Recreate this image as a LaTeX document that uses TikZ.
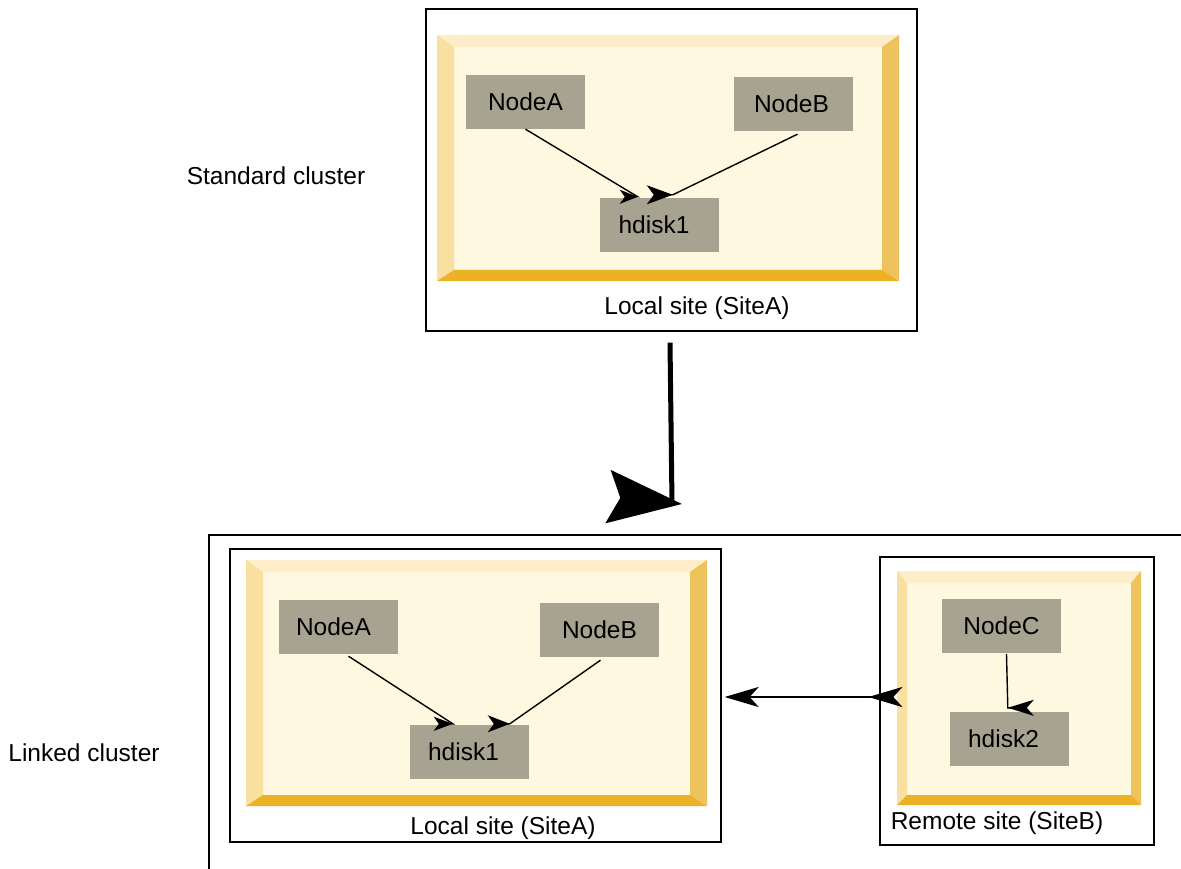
\documentclass[tikz,border=0pt]{standalone}
\usepackage{fontspec}
\setmainfont{Liberation Sans}
\usetikzlibrary{arrows.meta, calc}
\definecolor{facciata}{HTML}{FFF8E0}
\definecolor{bordosu}{HTML}{FDEDC8}
\definecolor{bordosx}{HTML}{F9DFA0}
\definecolor{bordodx}{HTML}{EFC35C}
\definecolor{bordogiu}{HTML}{EDB125}
\definecolor{grigionodo}{HTML}{A6A391}
% cornice smussata: x1, y1, x2, y2, lato, fondo
\newcommand{\cornice}[6]{
\fill[facciata] (#1,#2) rectangle (#3,#4);
\fill[bordosu] (#1,#2) -- (#3,#2) -- ({#3-#5},{#2+12}) -- ({#1+#5},{#2+12}) -- cycle;
\fill[bordosx] (#1,#2) -- ({#1+#5},{#2+12}) -- ({#1+#5},{#4-#6}) -- (#1,#4) -- cycle;
\fill[bordodx] (#3,#2) -- (#3,#4) -- ({#3-#5},{#4-#6}) -- ({#3-#5},{#2+12}) -- cycle;
\fill[bordogiu] (#1,#4) -- (#3,#4) -- ({#3-#5},{#4-#6}) -- ({#1+#5},{#4-#6}) -- cycle;
}
% testo spostato a sinistra
\newcommand{\sx}[2]{\hspace*{-#1pt}#2}
\tikzset{
  testo/.style = {font=\fontsize{24.5}{29}\selectfont},
  nodo/.style = {testo, fill=grigionodo, minimum width=119pt, minimum height=54pt, inner sep=0pt},
  sito/.style = {draw, line width=1.3pt, inner sep=0pt},
  freccia/.style = {line width=1.4pt}
}

\begin{document}
\begin{tikzpicture}[x=1pt, y=-1pt]
    \useasboundingbox (0,0) rectangle (1181,869);
    % Riquadri dei siti
    \node[sito, minimum width=491pt, minimum height=322pt] (sitoA1) at (671.5,170) {};
    \node[sito, minimum width=491pt, minimum height=293pt] (sitoA2) at (475.5,695.5) {};
    \node[sito, minimum width=274pt, minimum height=288pt] (sitoB) at (1017,701) {};
    \draw[line width=1.3pt] (1181,535) -| (209,869);
    % Cornici
    \cornice{437}{35}{899}{281}{17}{11}
    \cornice{246}{560}{707}{806}{17}{11}
    \cornice{897}{571}{1141}{805}{10}{10}
    % Nodi
    \node[nodo] (nA1) at (525.5,102) {NodeA};
    \node[nodo] (nB1) at (793.5,104) {\sx{4}{NodeB}};
    \node[nodo] (hd1) at (659.5,225) {\sx{11}{hdisk1}};
    \node[nodo] (nA2) at (338.5,627) {\sx{10}{NodeA}};
    \node[nodo] (nB2) at (599.5,630) {NodeB};
    \node[nodo] (hdL) at (469.5,752) {\sx{12}{hdisk1}};
    \node[nodo] (nC) at (1001.5,626) {NodeC};
    \node[nodo] (hd2) at (1009.5,739) {\sx{12}{hdisk2}};
    % Frecce
    \draw[freccia, -{Stealth[length=18pt, width=14pt, inset=5pt]}] (nA1.south) -- ($(hd1.north west)+(38,-1)$) -- ++(0.01,0);
    \draw[freccia, -{Stealth[length=26pt, width=19pt, inset=7pt]}] ($(nB1.south)+(4,3)$) -- ($(hd1.north west)+(73,-3)$) -- ++(0.01,0);
    \draw[freccia, -{Stealth[length=19pt, width=14pt, inset=5pt]}] ($(nA2.south)+(10,2)$) -- ($(hdL.north west)+(43,-1)$) -- ++(0.01,0);
    \draw[freccia, -{Stealth[length=22pt, width=17pt, inset=6pt]}] ($(nB2.south)+(1,3)$) -- ($(hdL.north west)+(100,-1)$) -- ++(0.01,0);
    \draw[freccia, -{Stealth[length=26pt, width=16pt, inset=7pt]}] ($(nC.south)+(5,1)$) -- ($(hd2.north west)+(58,-4)$) -- ++(-0.01,0);
    \draw[line width=2.4pt, {Stealth[reversed, length=34pt, width=20pt, inset=9pt]}-{Stealth[length=34pt, width=20pt, inset=9pt]}] ($(sitoB.west)+(23,-4)$) -- ($(sitoA2.east)+(3,1.5)$);
    \draw[line width=5pt, -{Stealth[length=74pt, width=53pt, inset=12pt]}] ($(sitoA1.south)+(-1.5,11)$) -- (672,503) -- ++(10,1);
    % Etichette
    \node[testo] (lstd) at (276,176) {Standard cluster};
    \node[testo] (llnk) at (84,753) {Linked cluster};
    \node[testo] (lA1) at (697,308) {Local site (SiteA)};
    \node[testo] (lA2) at (503,828) {Local site (SiteA)};
    \node[testo] (lB) at (997,823) {Remote site (SiteB)};
\end{tikzpicture}
\end{document}
